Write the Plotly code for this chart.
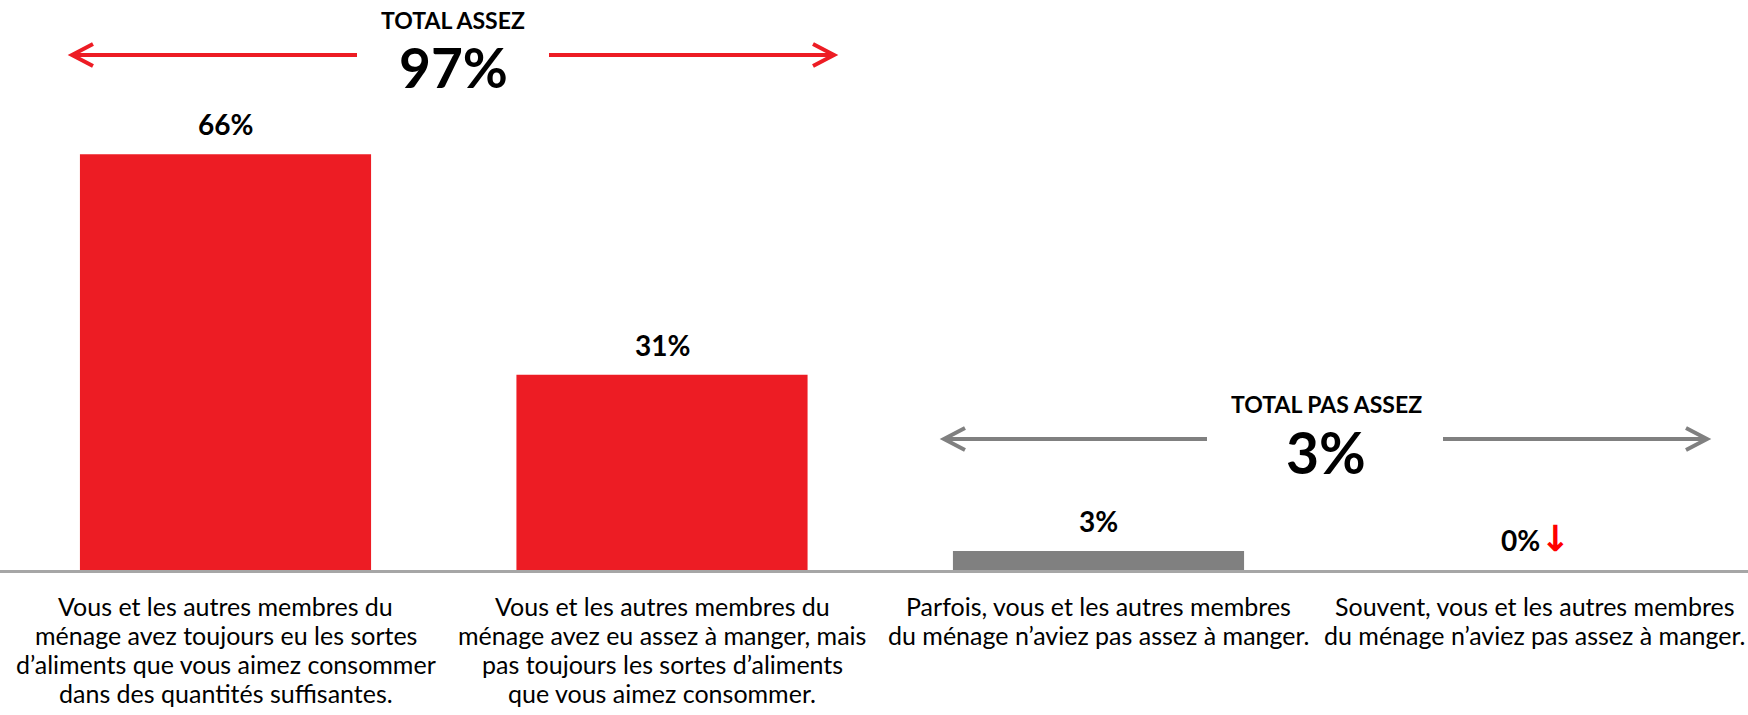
import plotly.graph_objects as go

# ---- data ----
categories = [
    "Vous et les autres membres du<br>ménage avez toujours eu les sortes<br>d’aliments que vous aimez consommer<br>dans des quantités suffisantes.",
    "Vous et les autres membres du<br>ménage avez eu assez à manger, mais<br>pas toujours les sortes d’aliments<br>que vous aimez consommer.",
    "Parfois, vous et les autres membres<br>du ménage n’aviez pas assez à manger.",
    "Souvent, vous et les autres membres<br>du ménage n’aviez pas assez à manger.",
]
values = [66, 31, 3, 0]
value_labels = ["66%", "31%", "3%", "0%"]
total_assez_label = "TOTAL ASSEZ"
total_assez_value = "97%"
total_pas_label = "TOTAL PAS ASSEZ"
total_pas_value = "3%"

RED = "#ED1C24"
GRAY = "#808080"
FONT = "Lato"

W, H = 1748, 715
MB = 145
PLOT_H = H - MB


def px(xp):
    return xp / W


def py(yp):
    return (PLOT_H - yp) / PLOT_H


bar_colors = [RED, RED, GRAY, GRAY]

fig = go.Figure()
fig.add_trace(go.Bar(
    x=categories, y=values, marker=dict(color=bar_colors, line=dict(width=0)),
    width=0.667, hoverinfo="skip",
))

annotations = []
for i, (c, v, lab) in enumerate(zip(categories, values, value_labels)):
    txt = f"<b>{lab}</b>"
    if i == 3:
        txt = (f"<b>{lab}</b><span style='color:#FF0000;font-size:36px;"
               f"font-family:DejaVu Sans;font-weight:bold'>↓</span>")
    annotations.append(dict(
        x=c, y=v, xref="x", yref="y", text=txt, showarrow=False,
        xanchor="center", yanchor="middle", yshift=30 if i != 3 else 32,
        font=dict(family=FONT, size=28, color="black"),
    ))

# category labels, one line per annotation for tighter line spacing
for c in categories:
    for k, line in enumerate(c.split("<br>")):
        annotations.append(dict(
            x=c, y=0, xref="x", yref="y", text=line, showarrow=False,
            xanchor="center", yanchor="middle", yshift=-(36 + 29 * k),
            font=dict(family=FONT, size=25, color="black"),
        ))

# totals
annotations += [
    dict(x=px(453), y=py(20), xref="paper", yref="paper", text=f"<b>{total_assez_label}</b>",
         showarrow=False, font=dict(family=FONT, size=23, color="black"),
         xanchor="center", yanchor="middle"),
    dict(x=px(453), y=py(67), xref="paper", yref="paper", text=f"<b>{total_assez_value}</b>",
         showarrow=False, font=dict(family=FONT, size=55, color="black"),
         xanchor="center", yanchor="middle"),
    dict(x=px(1326), y=py(404), xref="paper", yref="paper", text=f"<b>{total_pas_label}</b>",
         showarrow=False, font=dict(family=FONT, size=23, color="black"),
         xanchor="center", yanchor="middle"),
    dict(x=px(1326), y=py(452), xref="paper", yref="paper", text=f"<b>{total_pas_value}</b>",
         showarrow=False, font=dict(family=FONT, size=57, color="black"),
         xanchor="center", yanchor="middle"),
]

shapes = []


def arrow(x0, x1, y, color, tip_left):
    shapes.append(dict(type="line", xref="paper", yref="paper",
                       x0=px(x0), x1=px(x1), y0=py(y), y1=py(y),
                       line=dict(color=color, width=4)))
    if tip_left:
        tx, d = x0, 1
    else:
        tx, d = x1, -1
    path = (f"M {px(tx + d*21)},{py(y-11)} L {px(tx)},{py(y)} L {px(tx + d*21)},{py(y+11)}")
    shapes.append(dict(type="path", xref="paper", yref="paper", path=path,
                       line=dict(color=color, width=4)))


arrow(72, 357, 55, RED, True)
arrow(549, 834, 55, RED, False)
arrow(944, 1207, 439, GRAY, True)
arrow(1443, 1707, 439, GRAY, False)

r0 = -225.5 / 436.5
r1 = r0 + W / 436.5

fig.update_layout(
    width=W, height=H,
    margin=dict(l=0, r=0, t=0, b=MB),
    paper_bgcolor="white", plot_bgcolor="white",
    showlegend=False,
    annotations=annotations, shapes=shapes,
    xaxis=dict(range=[r0, r1], showgrid=False, zeroline=False,
               showline=True, linecolor="#A6A6A6", linewidth=2.5,
               showticklabels=False, ticks="",
               automargin=False, fixedrange=True),
    yaxis=dict(range=[0, PLOT_H / 6.3], visible=False, fixedrange=True),
    bargap=0.333,
)

fig.write_html("out.html", config={"displayModeBar": False},
               post_script="document.body.style.margin='0';")
